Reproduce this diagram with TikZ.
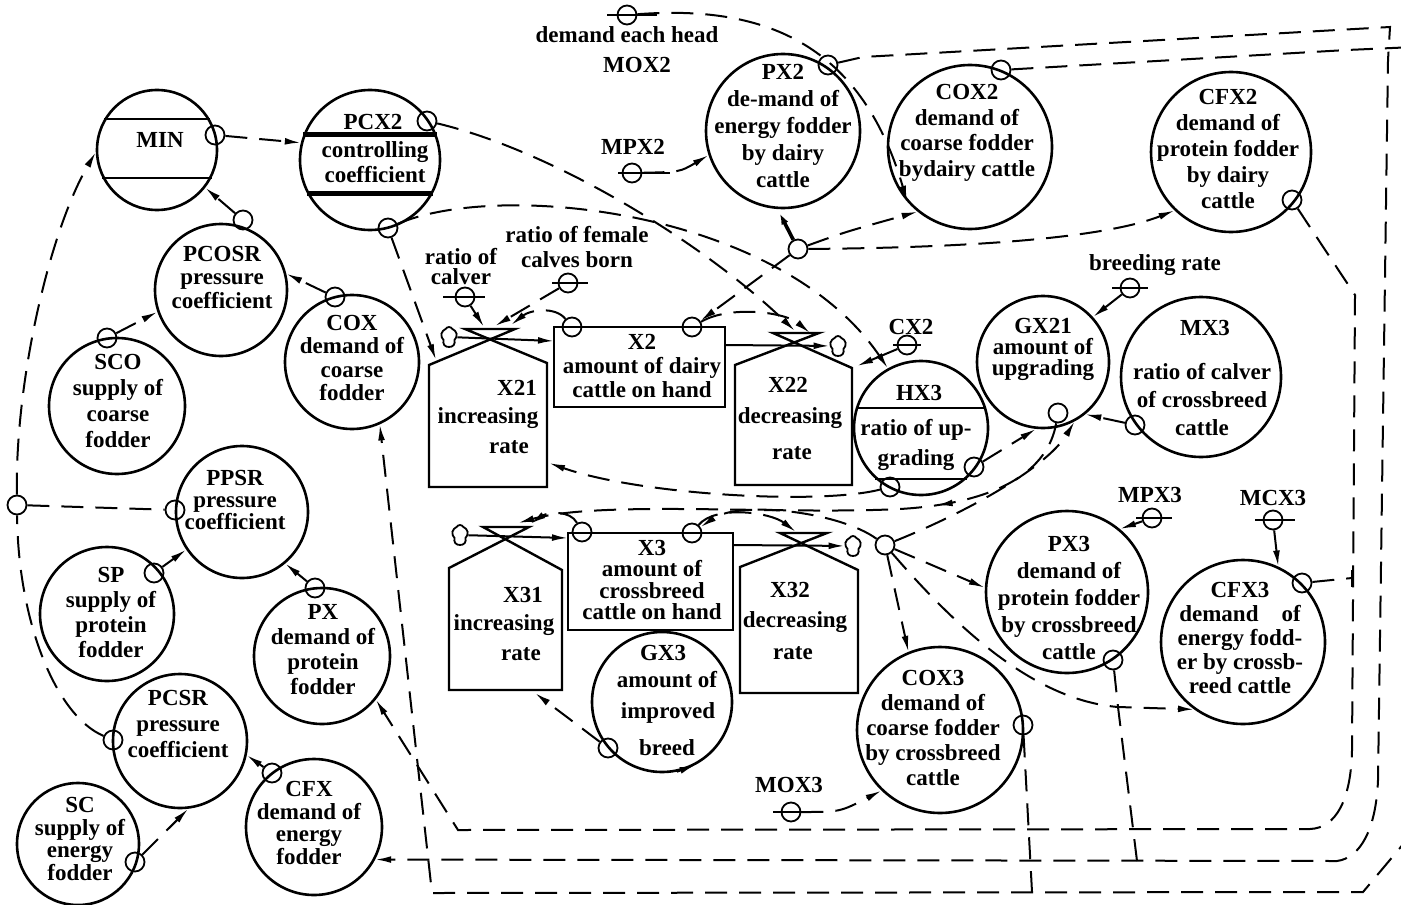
\documentclass[tikz,border=0pt]{standalone}
\usepackage{fontspec}
\setmainfont{Liberation Serif}
\usetikzlibrary{arrows.meta,shapes.symbols,decorations.markings}
\begin{document}
\begin{tikzpicture}[x=0.5pt,y=-0.5pt,
  bc/.style={draw,circle,line width=1.3pt,inner sep=0pt},
  sc/.style={draw,circle,line width=0.9pt,inner sep=0pt,minimum size=9.5pt},
  tx/.style={font=\fontsize{11.5}{#1}\selectfont\bfseries,align=center,inner sep=0pt},
  tx/.default=13,
  con/.style={line width=1pt},
  dsh/.style={con,dash pattern=on 11pt off 6pt},
  arr/.style={-{Latex[length=8pt,width=3.4pt]}},
  house/.style={line width=1.2pt,line join=miter},
  box/.style={draw,line width=1.2pt,inner sep=0pt},
  cl/.style={cloud,draw,line width=0.9pt,cloud puffs=5,cloud puff arc=120,aspect=0.8,inner sep=0pt,minimum width=8pt,minimum height=10pt},
  midarr/.style={postaction={decorate,decoration={markings,mark=at position #1 with {\arrow{Latex[length=8pt,width=3.4pt]}}}}},
  stroke/.style={con},
]
\useasboundingbox (0,0) rectangle (1401,904);
\clip (0,0) rectangle (1401,904);

% ---------------- big circles ----------------
\node[bc,minimum size=60pt] (min)   at (157,150) {};
\node[bc,minimum size=70pt] (pcx2)  at (370,160) {};
\node[bc,minimum size=66pt] (pcosr) at (221,290) {};
\node[bc,minimum size=67pt] (cox)   at (352,362) {};
\node[bc,minimum size=68pt] (sco)   at (117,406) {};
\node[bc,minimum size=66pt] (ppsr)  at (242,512) {};
\node[bc,minimum size=67pt] (sp)    at (107,614) {};
\node[bc,minimum size=68pt] (px)    at (322,656) {};
\node[bc,minimum size=67pt] (pcsr)  at (180,741) {};
\node[bc,minimum size=68pt] (cfx)   at (314,827) {};
\node[bc,minimum size=61pt] (sc)    at (78,844) {};
\node[bc,minimum size=77pt] (px2)   at (783,131) {};
\node[bc,minimum size=82pt] (cox2)  at (970,147) {};
\node[bc,minimum size=80pt] (cfx2)  at (1231,152) {};
\node[bc,minimum size=66pt] (gx21)  at (1043,362) {};
\node[bc,minimum size=80pt] (mx3)   at (1201,377) {};
\node[bc,minimum size=67pt] (hx3)   at (921,428) {};
\node[bc,minimum size=70pt] (gx3)   at (662,702) {};
\node[bc,minimum size=83pt] (cox3)  at (940,730) {};
\node[bc,minimum size=81pt] (px3)   at (1067,592) {};
\node[bc,minimum size=82pt] (cfx3)  at (1243,642) {};

% chords
\draw[con] (min.30) -- (min.150);
\draw[con] (min.-27) -- (min.-153);
\draw[line width=2.2pt] (pcx2.21) -- (pcx2.159);
\draw[line width=2.2pt] (pcx2.-28) -- (pcx2.-152);
\draw[con] (hx3.17) -- (hx3.163);
\draw[con] (hx3.-48) -- (hx3.-132);

% ---------------- stocks, rates, clouds ----------------
\node[box,minimum width=85.5pt,minimum height=40pt] (x2b) at (639.5,367) {};
\node[box,minimum width=82.5pt,minimum height=48.5pt] (x3b) at (650.5,581.5) {};
\draw[house] (429,487) -- (429,365) -- (515,329) -- (465,329) -- (547,363) -- (547,487) -- cycle;
\draw[house] (735,485) -- (735,365) -- (819,333) -- (773,333) -- (852,368) -- (852,485) -- cycle;
\draw[house] (449,690) -- (449,568) -- (529,527) -- (483,527) -- (562,570) -- (562,690) -- cycle;
\draw[house] (740,693) -- (740,567) -- (827,533) -- (780,533) -- (858,570) -- (858,693) -- cycle;
\node[cl] (cl21) at (449,337) {};
\node[cl] (cl22) at (838,346) {};
\node[cl] (cl31) at (460,535) {};
\node[cl] (cl32) at (853,546) {};
\coordinate (x2in)  at (554,341);
\coordinate (x2out) at (725,345);
\coordinate (x3in)  at (568,538);
\coordinate (x3out) at (733,545);
\draw[con,arr] (cl21) -- (x2in);
\draw[con,arr] (x2out) -- (cl22);
\draw[con,arr] (cl31) -- (x3in);
\draw[con,arr] (x3out) -- (cl32);

% named end points on rates
\coordinate (x21vt)  at (484,327);
\coordinate (x21vtb) at (495,326);
\coordinate (x21vtc) at (511,325);
\coordinate (x21rl)  at (436,360);
\coordinate (x21r)   at (549,463);
\coordinate (x22vt)  at (795,331);
\coordinate (x22vt2) at (810,333);
\coordinate (x22rc)  at (857,366);
\coordinate (x31vt)  at (530,524);
\coordinate (x31vt2) at (518,523);
\coordinate (x31b)   at (535,693);
\coordinate (x32vt)  at (796,532);
\coordinate (jA) at (1352,578);
\coordinate (jB) at (1137,861);
\coordinate (jC) at (1032,892);

% ---------------- small circles ----------------
\node[sc] (minC)   at (215,135) {};
\node[sc] (pcx2A)  at (427,121) {};
\node[sc] (pcx2B)  at (388,228) {};
\node[sc] (pcosrC) at (243,220) {};
\node[sc] (coxC)   at (335,297) {};
\node[sc] (scoC)   at (107,338) {};
\node[sc] (ppsrC)  at (175,510) {};
\node[sc] (lj)     at (17,505) {};
\node[sc] (spC)    at (154,573) {};
\node[sc] (pxC)    at (315,588) {};
\node[sc] (pcsrC)  at (113,740) {};
\node[sc] (cfxC)   at (272,773) {};
\node[sc] (scC)    at (135,862) {};
\node[sc] (px2C)   at (828,65) {};
\node[sc] (cox2C)  at (1001,70) {};
\node[sc] (cfx2C)  at (1292,200) {};
\node[sc] (x2A)    at (572,327) {};
\node[sc] (x2B)    at (692,327) {};
\node[sc] (jd)     at (798,249) {};
\node[sc] (calver) at (465,297) {};
\node[sc] (female) at (568,283) {};
\node[sc] (mox2)   at (627,15) {};
\node[sc] (mpx2)   at (632,173) {};
\node[sc] (cx2)    at (907,345) {};
\node[sc] (breed)  at (1130,288) {};
\node[sc] (gx21C)  at (1058,413) {};
\node[sc] (mx3C)   at (1135,425) {};
\node[sc] (hx3A)   at (890,487) {};
\node[sc] (hx3B)   at (974,467) {};
\node[sc] (x3A)    at (582,532) {};
\node[sc] (x3B)    at (692,533) {};
\node[sc] (jx)     at (885,545) {};
\node[sc] (gx3C)   at (608,748) {};
\node[sc] (mox3)   at (791,812) {};
\node[sc] (mpx3)   at (1152,518) {};
\node[sc] (mcx3)   at (1273,520) {};
\node[sc] (px3C)   at (1113,660) {};
\node[sc] (cfx3C)  at (1302,583) {};
\node[sc] (cox3C)  at (1023,725) {};

% strokes through parameter circles
\draw[stroke] (mox2.center) ++(-10pt,0) -- ++(25pt,0);
\draw[stroke] (mpx2.center) ++(-7pt,0) -- ++(26pt,0);
\draw[stroke] (calver.center) ++(-11pt,0) -- ++(21pt,0);
\draw[stroke] (female.center) ++(-8pt,0) -- ++(18pt,0);
\draw[stroke] (cx2.center) ++(-7pt,0) -- ++(14pt,0);
\draw[stroke] (breed.center) ++(-9pt,0) -- ++(18pt,0);
\draw[stroke] (mpx3.center) ++(-8pt,0) -- ++(18pt,0);
\draw[stroke] (mcx3.center) ++(-9pt,0) -- ++(20pt,0);
\draw[stroke] (mox3.center) ++(-9pt,0) -- ++(20pt,0);
\draw[con] (1352,570) -- (1352,587);

% ---------------- connectors: left part ----------------
\draw[dsh,arr] (minC) -- (pcx2.166);
\draw[dsh,arr] (pcosrC) -- (min.-38);
\draw[dsh,arr] (coxC) -- (pcosr.14);
\draw[dsh,arr] (scoC) -- (pcosr.199);
\draw[dsh,arr] (spC) -- (ppsr.214);
\draw[dsh,arr] (pxC) -- (ppsr.-50);
\draw[dsh,arr] (cfxC) -- (pcsr.-12);
\draw[dsh,arr] (scC) -- (pcsr.-83);
\draw[dsh] (lj) -- (ppsrC);
\draw[dsh] (pcsrC) .. controls (55,715) and (18,620) .. (lj);
\draw[dsh,arr] (lj) .. controls (15,380) and (50,230) .. (min.182);

% ---------------- connectors: dairy part ----------------
\draw[dsh,arr] (pcx2B) -- (x21rl);
\draw[dsh,arr] (pcx2B) .. controls (500,180) and (780,210) .. (hx3.119);
\draw[dsh,arr] (pcx2A) .. controls (550,150) and (700,240) .. (x22vt);
\draw[dsh,arr] (x2B) .. controls (730,305) and (785,312) .. (x22vt2);
\draw[dsh,arr] (x2A) .. controls (555,306) and (530,310) .. (x21vtc);
\draw[dsh,arr] (calver) -- (x21vt);
\draw[dsh,arr] (female) -- (x21vtb);
\draw[dsh,arr] (jd) -- (x2B);
\draw[line width=1.8pt,arr] (jd) -- (px2.-94);
\draw[dsh,arr] (jd) .. controls (845,232) .. (cox2.231);
\draw[dsh,arr] (jd) .. controls (950,248) and (1100,240) .. (cfx2.226);
\draw[dsh,arr] (mox2) .. controls (760,5) and (860,40) .. (cox2.221);
\draw[dsh,arr] (mpx2) .. controls (680,172) .. (px2.198);
\draw[con,arr] (cx2) -- (x22rc);
\draw[dsh,arr] (hx3A) .. controls (820,505) and (640,495) .. (x21r);
\draw[dsh,arr] (hx3B) -- (gx21.-96);
\draw[dsh,arr] (mx3C) -- (gx21.-51);
\draw[dsh,arr] (breed) -- (gx21.42);

% ---------------- connectors: crossbreed part ----------------
\draw[dsh,arr,midarr=0.27] (gx21C) .. controls (1048,470) and (1000,503) .. (900,509) .. controls (780,515) and (600,500) .. (x31vt2);
\draw[dsh,arr] (jx) .. controls (960,515) and (1045,470) .. (gx21.-62);
\draw[dsh,arr] (jx) .. controls (840,512) and (740,500) .. (x3B);
\draw[dsh,arr] (jx) -- (px3.177);
\draw[dsh,arr] (jx) -- (cox3.112);
\draw[dsh,arr] (jx) .. controls (950,620) and (1030,700) .. (1118,707) -- (cfx3.234);
\draw[dsh,arr] (x3A) .. controls (570,510) and (548,512) .. (x31vt);
\draw[dsh,arr] (x3B) .. controls (715,505) and (770,512) .. (x32vt);
\draw[dsh,arr] (gx3C) -- (x31b);
\draw[con,arr] (gx3.-78) -- (gx3.-62);
\draw[dsh,arr] (mox3) .. controls (840,812) .. (cox3.226);
\draw[dsh,arr] (mpx3) -- (px3.50);
\draw[dsh,arr] (mcx3) -- (cfx3.65);

% ---------------- long fodder lines ----------------
\draw[dsh,arr] (px2C) -- (863,57) -- (1390,27) -- (1388,60) -- (1378,780)
   .. controls (1376,830) and (1360,858) .. (1337,861) -- (cfx.-28);
\draw[dsh,arr] (cox2C) -- (1347,50) -- (1415,47) -- (1415,830) -- (1363,892) -- (432,893) -- (cox.-66);
\draw[dsh,arr] (cfx2C) -- (1355,295) -- (1352,750)
   .. controls (1351,800) and (1336,828) .. (1310,829) -- (458,830) -- (px.-39);
\draw[dsh] (cfx3C) -- (jA);
\draw[dsh] (px3C) -- (1118,707) -- (jB);
\draw[dsh] (cox3C) -- (jC);

% ---------------- texts ----------------
\node[tx] (tMIN) at (160,140) {MIN};
\node[tx] (tPCX2) at (373,122) {PCX2};
\node[tx=12.5] (tPCX2b) at (375,162) {controlling\\coefficient};
\node[tx=11.75] (tPCOSR) at (222,277) {PCOSR\\pressure\\coefficient};
\node[tx=11.7] (tCOX) at (352,358) {COX\\demand of\\coarse\\fodder};
\node[tx=13] (tSCO) at (118,401) {SCO\\supply of\\coarse\\fodder};
\node[tx=11] (tPPSR) at (235,500) {PPSR\\pressure\\coefficient};
\node[tx=12.5] (tSP) at (111,612) {SP\\supply of\\protein\\fodder};
\node[tx=12.5] (tPX) at (323,650) {PX\\demand of\\protein\\fodder};
\node[tx=13] (tPCSR) at (178,724) {PCSR\\pressure\\coefficient};
\node[tx=11.2] (tCFX) at (309,823) {CFX\\demand of\\energy\\fodder};
\node[tx=11.3] (tSC) at (80,839) {SC\\supply of\\energy\\fodder};
\node[tx=13.5] (tPX2) at (783,126) {PX2\\de-mand of\\energy fodder\\by dairy\\cattle};
\node[tx=12.8] (tCOX2) at (967,133) {COX2\\demand of\\coarse fodder\\bydairy cattle};
\node[tx=13] (tCFX2) at (1228,149) {CFX2\\demand of\\protein fodder\\by dairy\\cattle};
\node[tx=10.5] (tGX21) at (1043,349) {GX21\\amount of\\upgrading};
\node[tx] (tMX3) at (1205,328) {MX3};
\node[tx=14] (tMX3b) at (1202,400) {ratio of calver\\of crossbreed\\cattle};
\node[tx] (tHX3) at (919,393) {HX3};
\node[tx=15] (tHX3b) at (916,445) {ratio of up-\\grading};
\node[tx=12] (tX2) at (642,366) {X2\\amount of dairy\\cattle on hand};
\node[tx] (tX21a) at (517,388) {X21};
\node[tx] (tX21b) at (488,418) {increasing};
\node[tx] (tX21c) at (509,447) {rate};
\node[tx] (tX22a) at (788,385) {X22};
\node[tx] (tX22b) at (790,418) {decreasing};
\node[tx] (tX22c) at (792,453) {rate};
\node[tx=10.8] (tX3) at (652,580) {X3\\amount of\\crossbreed\\cattle on hand};
\node[tx] (tX31a) at (523,595) {X31};
\node[tx] (tX31b) at (504,625) {increasing};
\node[tx] (tX31c) at (521,654) {rate};
\node[tx] (tX32a) at (790,590) {X32};
\node[tx] (tX32b) at (795,622) {decreasing};
\node[tx] (tX32c) at (793,653) {rate};
\node[tx] (tGX3a) at (663,653) {GX3};
\node[tx] (tGX3b) at (667,680) {amount of};
\node[tx] (tGX3c) at (668,713) {improved};
\node[tx] (tGX3d) at (667,748) {breed};
\node[tx=12.5] (tCOX3) at (933,728) {COX3\\demand of\\coarse fodder\\by crossbreed\\cattle};
\node[tx=13.4] (tPX3) at (1069,598) {PX3\\demand of\\protein fodder\\by crossbreed\\cattle};
\node[tx=12] (tCFX3) at (1240,638) {CFX3\\demand\quad of\\energy fodd-\\er by crossb-\\reed cattle};
\node[tx] (tDEH) at (627,35) {demand each head};
\node[tx] (tMOX2) at (637,65) {MOX2};
\node[tx] (tMPX2) at (633,147) {MPX2};
\node[tx=10] (tCalver) at (461,267) {ratio of\\calver};
\node[tx=12.5] (tFemale) at (577,247) {ratio of female\\calves born};
\node[tx] (tCX2) at (911,327) {CX2};
\node[tx] (tBreed) at (1155,265) {breeding rate};
\node[tx] (tMPX3) at (1150,495) {MPX3};
\node[tx] (tMCX3) at (1273,498) {MCX3};
\node[tx] (tMOX3) at (789,785) {MOX3};
\end{tikzpicture}
\end{document}
